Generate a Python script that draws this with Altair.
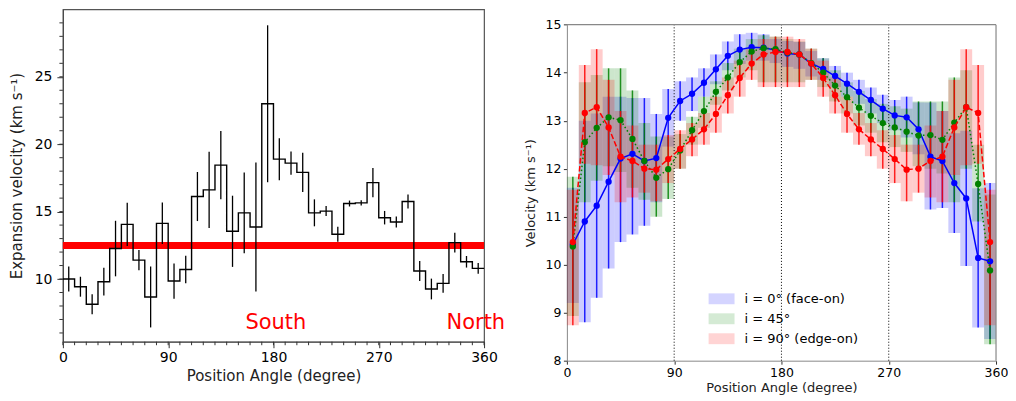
import altair as alt
import pandas as pd

FONT = "DejaVu Sans"

# ---------------- left panel data ----------------
bin_start = list(range(0, 360, 10))
exp_vel = [10.0, 9.43, 8.13, 9.80, 12.26, 14.05, 11.40, 8.67, 14.13, 9.85, 10.71, 16.12,
           16.61, 18.45, 13.54, 14.91, 13.86, 23.0, 18.89, 18.6, 17.91, 14.91, 15.04, 13.32,
           15.6, 15.65, 17.15, 14.55, 14.23, 15.75, 10.59, 9.26, 9.68, 12.7, 11.28, 10.79]
exp_err = [0.93, 0.74, 0.74, 1.03, 2.06, 1.6, 0.75, 2.26, 1.54, 1.31, 1.02, 1.82,
           2.83, 2.53, 2.64, 3.0, 4.78, 5.82, 1.56, 0.86, 1.45, 1.0, 0.37, 0.55,
           0.22, 0.2, 1.08, 0.5, 0.4, 0.52, 0.74, 0.77, 0.7, 0.74, 0.43, 0.4]
ref_vel = 12.48
side_text = ["South", "North"]
side_pa = [182, 353]
side_v = [6.75, 6.75]
left_major_x = [0, 90, 180, 270, 360]
left_major_y = [10, 15, 20, 25]
left_minor_x = list(range(0, 361, 10))
left_minor_y = list(range(6, 30))

# ---------------- right panel data ----------------
pa_pts = list(range(5, 360, 10))
blue_v = [10.42, 10.90, 11.23, 11.73, 12.21, 12.31, 12.16, 12.22, 13.06, 13.41, 13.56, 13.79,
          14.07, 14.35, 14.48, 14.53, 14.52, 14.47, 14.40, 14.38, 14.19, 14.08, 13.93, 13.77,
          13.60, 13.43, 13.25, 13.11, 13.07, 12.82, 12.25, 12.16, 11.70, 11.38, 10.14, 10.07]
blue_lo = [9.2, 8.80, 9.31, 9.92, 10.47, 10.63, 10.81, 11.3, 12.46, 13.0, 13.2, 13.5,
           13.76, 14.05, 14.18, 14.25, 14.25, 14.2, 14.12, 14.08, 13.92, 13.85, 13.7, 13.5,
           13.35, 13.15, 12.95, 12.8, 12.65, 12.3, 11.15, 11.18, 10.66, 9.97, 8.69, 8.45]
blue_hi = [11.6, 13.0, 13.15, 13.5, 13.5, 13.47, 13.47, 13.14, 13.66, 13.82, 13.9, 14.09,
           14.38, 14.65, 14.8, 14.83, 14.8, 14.7, 14.66, 14.64, 14.45, 14.3, 14.14, 14.0,
           13.85, 13.69, 13.54, 13.43, 13.5, 13.38, 13.38, 13.2, 12.74, 12.79, 11.59, 11.7]
green_v = [10.38, 12.55, 12.85, 13.07, 13.01, 12.62, 12.16, 11.81, 11.99, 12.38, 12.80, 13.20,
           13.60, 13.90, 14.22, 14.44, 14.51, 14.49, 14.42, 14.38, 14.20, 14.00, 13.73, 13.49,
           13.27, 13.10, 12.95, 12.86, 12.77, 12.69, 12.70, 12.60, 12.96, 13.28, 11.68, 9.88]
green_lo = [8.93, 11.3, 11.75, 12.05, 11.93, 11.6, 11.35, 11.0, 11.37, 12.0, 12.5, 12.85,
            13.33, 13.63, 13.9, 14.05, 13.8, 13.8, 13.8, 13.8, 13.85, 13.7, 13.4, 13.15,
            12.9, 12.75, 12.55, 12.45, 12.35, 12.05, 12.0, 11.9, 11.3, 12.0, 10.9, 8.34]
green_hi = [11.83, 13.8, 13.95, 14.09, 14.09, 13.63, 12.95, 12.67, 12.67, 12.72, 13.08, 13.5,
            13.82, 14.2, 14.5, 14.7, 14.78, 14.75, 14.7, 14.65, 14.5, 14.3, 14.05, 13.8,
            13.62, 13.45, 13.35, 13.3, 13.25, 13.4, 13.4, 13.4, 13.9, 14.05, 12.5, 11.46]
red_v = [10.47, 13.16, 13.28, 12.86, 12.25, 12.16, 12.0, 11.98, 12.20, 12.41, 12.61, 12.82,
         13.14, 13.53, 13.89, 14.19, 14.38, 14.43, 14.43, 14.38, 14.19, 13.89, 13.53, 13.14,
         12.82, 12.61, 12.41, 12.20, 11.98, 12.0, 12.16, 12.25, 12.86, 13.28, 13.16, 10.47]
red_lo = [8.74, 12.1, 12.07, 11.87, 11.3, 11.4, 11.5, 11.32, 11.7, 12.0, 12.26, 12.5,
          12.75, 13.15, 13.5, 13.85, 13.7, 13.7, 13.7, 13.7, 13.85, 13.5, 13.15, 12.75,
          12.5, 12.26, 12.0, 11.7, 11.32, 11.5, 11.4, 11.3, 11.87, 12.07, 12.1, 8.74]
red_hi = [11.56, 14.16, 14.49, 13.85, 13.2, 12.9, 12.5, 12.5, 12.7, 12.8, 12.95, 13.16,
          13.5, 13.9, 14.25, 14.5, 14.7, 14.75, 14.75, 14.7, 14.5, 14.25, 13.9, 13.5,
          13.16, 12.95, 12.8, 12.7, 12.5, 12.5, 12.9, 13.2, 13.85, 14.49, 14.16, 11.56]
series_names = ["i = 0° (face-on)", "i = 45°", "i = 90°  (edge-on)"]
series_colors = ["#0000ff", "#008000", "#ff0000"]
band_colors = ["rgba(0,0,255,0.2)", "rgba(0,128,0,0.2)", "rgba(255,0,0,0.2)"]
series_dash = [None, [1.5, 2.5], [5.5, 2.4]]
guide_pa = [90, 180, 270]
right_major_x = [0, 90, 180, 270, 360]
right_major_y = [8, 9, 10, 11, 12, 13, 14, 15]
right_ymin, right_ymax = 8, 15
right_xmin, right_xmax = 0, 360

# ---------------- left chart ----------------
W1, H1 = 422, 333
xs1 = alt.Scale(domain=[0, 360], nice=False, zero=False)
ys1 = alt.Scale(domain=[5.35, 30.0], nice=False, zero=False)
xax1 = alt.Axis(values=left_major_x, title="Position Angle (degree)", tickSize=6, labelFontSize=14,
                titleFontSize=15, labelPadding=3, titlePadding=4, domainColor="#444", tickColor="#333",
                labelColor="black", titleColor="#222", titleFontWeight="normal", grid=False,
                labelFlush=False)
yax1 = alt.Axis(values=left_major_y, title="Expansion velocity (km s⁻¹)", tickSize=6, labelFontSize=14,
                titleFontSize=15, labelPadding=5, titlePadding=10, domainColor="#444", tickColor="#333",
                labelColor="black", titleColor="#222", titleFontWeight="normal", grid=False)

step_df = pd.DataFrame({"pa": bin_start + [360], "v": exp_vel + [exp_vel[-1]]})
err_df = pd.DataFrame({"pa": [b + 5 for b in bin_start],
                       "lo": [v - e for v, e in zip(exp_vel, exp_err)],
                       "hi": [v + e for v, e in zip(exp_vel, exp_err)]})
ref_df = pd.DataFrame({"pa": [0], "pa2": [360], "v": [ref_vel]})
txt_df = pd.DataFrame({"pa": side_pa, "v": side_v, "t": side_text})
minx_df = pd.DataFrame({"pa": left_minor_x})
miny_df = pd.DataFrame({"v": left_minor_y})

X1 = lambda f: alt.X(f, type="quantitative", scale=xs1, axis=xax1)
Y1 = lambda f: alt.Y(f, type="quantitative", scale=ys1, axis=yax1)

ref_band = alt.Chart(ref_df).mark_rule(color="#ff0000", strokeWidth=7).encode(
    x=X1("pa"), x2="pa2", y=Y1("v"))
step = alt.Chart(step_df).mark_line(interpolate="step-after", color="black", strokeWidth=1.4).encode(
    x=X1("pa"), y=Y1("v"))
errs = alt.Chart(err_df).mark_rule(color="black", strokeWidth=1.3).encode(
    x=X1("pa"), y=Y1("lo"), y2="hi")
texts = alt.Chart(txt_df).mark_text(color="#ff0000", fontSize=21, font=FONT, align="center",
                                    baseline="middle").encode(x=X1("pa"), y=Y1("v"), text="t")
minx = alt.Chart(minx_df).mark_rule(color="#333", strokeWidth=1).encode(
    x=X1("pa"), y=alt.value(H1), y2=alt.value(H1 + 3.5))
miny = alt.Chart(miny_df).mark_rule(color="#333", strokeWidth=1).encode(
    y=Y1("v"), x=alt.value(0), x2=alt.value(-3.5))

left = alt.layer(ref_band, step, errs, texts, minx, miny).properties(
    width=W1, height=H1, view=alt.ViewBackground(stroke="#555", strokeWidth=1.2))

# ---------------- right chart ----------------
W2, H2 = 430, 352
TOP2 = 15.3  # right plot starts lower than the left one
xs2 = alt.Scale(domain=[right_xmin, right_xmax], nice=False, zero=False)
ys2 = alt.Scale(domain=[right_ymin, right_ymax], range=[H2, TOP2], nice=False, zero=False)
xax2 = alt.Axis(values=right_major_x, title="Position Angle (degree)", tickSize=3.5, labelFontSize=12.5,
                titleFontSize=13, labelPadding=2, titlePadding=3, domainColor="#888", tickColor="#333",
                labelColor="black", titleColor="#222", titleFontWeight="normal", grid=False,
                labelFlush=False)
yax2 = alt.Axis(values=right_major_y, title="Velocity (km s⁻¹)", tickSize=3.5, labelFontSize=12.5,
                titleFontSize=13, labelPadding=2.5, titlePadding=8, domainColor="#888", tickColor="#333",
                labelColor="black", titleColor="#222", titleFontWeight="normal", grid=False)
X2 = lambda f: alt.X(f, type="quantitative", scale=xs2, axis=xax2)
Y2 = lambda f: alt.Y(f, type="quantitative", scale=ys2, axis=yax2)

rows = []
for name, col, vals, los, his in zip(series_names, series_colors,
                                     [blue_v, green_v, red_v],
                                     [blue_lo, green_lo, red_lo],
                                     [blue_hi, green_hi, red_hi]):
    for p, v, lo, hi in zip(pa_pts, vals, los, his):
        rows.append({"series": name, "col": col, "pa": p, "pa0": p - 5, "pa1": p + 5,
                     "v": v, "lo": lo, "hi": hi})
rdf = pd.DataFrame(rows)

bands = alt.Chart(rdf).mark_rect(strokeWidth=0).encode(
    x=X2("pa0"), x2="pa1", y=Y2("lo"), y2="hi",
    color=alt.Color("series:N",
                    scale=alt.Scale(domain=series_names, range=band_colors),
                    legend=alt.Legend(title=None, orient="none", legendX=142, legendY=277,
                                      symbolType="M-1,-0.42H1V0.42H-1Z", symbolSize=676,
                                      symbolStrokeWidth=0,
                                      labelFontSize=13, labelFont=FONT, labelColor="black",
                                      labelOffset=10, rowPadding=-7, padding=0,
                                      labelLimit=300)))
ebars = alt.Chart(rdf).mark_rule(strokeWidth=1.5, opacity=0.85).encode(
    x=X2("pa"), y=Y2("lo"), y2="hi", color=alt.Color("col:N", scale=None))
guide_df = pd.DataFrame({"pa": guide_pa, "y0": [right_ymin] * 3, "y1": [right_ymax] * 3})
guides = alt.Chart(guide_df).mark_rule(
    color="black", strokeWidth=1, strokeDash=[1, 2]).encode(x=X2("pa"), y=Y2("y0"), y2="y1")

# frame (top and right edges) of the right panel
frame_df = pd.DataFrame({"x0": [right_xmin, right_xmax], "x1": [right_xmax, right_xmax],
                         "y0": [right_ymax, right_ymin], "y1": [right_ymax, right_ymax]})
frame = alt.Chart(frame_df).mark_rule(color="#888", strokeWidth=1.2).encode(
    x=X2("x0"), x2="x1", y=Y2("y0"), y2="y1")

layers = [bands, ebars, guides]
for name, col, dash in zip(series_names, series_colors, series_dash):
    sdf = rdf[rdf["series"] == name]
    lkw = dict(color=col, strokeWidth=1.5)
    if dash:
        lkw["strokeDash"] = dash
    layers.append(alt.Chart(sdf).mark_line(**lkw).encode(x=X2("pa"), y=Y2("v")))
    layers.append(alt.Chart(sdf).mark_circle(color=col, size=40, opacity=1).encode(
        x=X2("pa"), y=Y2("v")))
layers.append(frame)

right = alt.layer(*layers).properties(
    width=W2, height=H2, view=alt.ViewBackground(stroke=None))

chart = alt.hconcat(left, right, spacing=18).resolve_scale(color="independent").resolve_legend(
    color="independent").properties(
    padding={"left": 0, "top": 0, "right": 0, "bottom": 0}
).configure(font=FONT).configure_axis(labelFont=FONT, titleFont=FONT)

chart.save("out.html", embed_options={"renderer": "svg", "actions": False})
